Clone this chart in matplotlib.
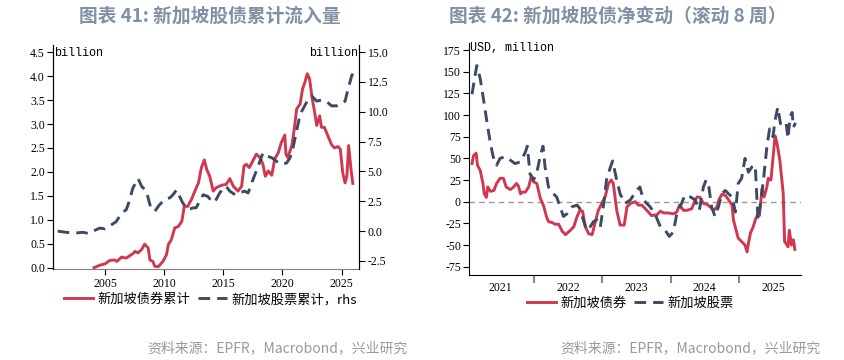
import matplotlib
matplotlib.use("Agg")
import matplotlib.pyplot as plt
from matplotlib.font_manager import FontProperties

# Figure 41: cumulative flows (decimal year, billion)
bond_cum_x = [2004.07, 2004.55, 2005.0, 2005.4, 2005.8, 2006.0, 2006.4, 2006.8, 2007.4, 2007.55,
              2007.8, 2008.1, 2008.35, 2008.65, 2008.8, 2009.05, 2009.2, 2009.5, 2009.9, 2010.2,
              2010.35, 2010.6, 2010.9, 2011.2, 2011.5, 2011.7, 2012.0, 2012.3, 2012.6, 2012.9,
              2013.15, 2013.4, 2013.6, 2013.85, 2014.15, 2014.4, 2014.85, 2015.25, 2015.55, 2015.85,
              2016.25, 2016.55, 2016.75, 2016.95, 2017.2, 2017.5, 2017.8, 2018.1, 2018.35, 2018.55,
              2018.8, 2019.1, 2019.35, 2019.65, 2019.9, 2020.2, 2020.3, 2020.45, 2020.8, 2021.0,
              2021.2, 2021.5, 2021.7, 2021.9, 2022.1, 2022.3, 2022.5, 2022.7, 2022.9, 2023.15,
              2023.3, 2023.55, 2023.85, 2024.15, 2024.4, 2024.7, 2024.9, 2025.1, 2025.3, 2025.45,
              2025.6, 2025.8, 2025.95]
bond_cum = [0.0, 0.05, 0.08, 0.15, 0.16, 0.13, 0.22, 0.2, 0.3, 0.34,
            0.31, 0.38, 0.49, 0.41, 0.16, 0.13, 0.03, 0.02, 0.13, 0.27,
            0.48, 0.58, 0.83, 0.86, 0.97, 1.28, 1.28, 1.42, 1.6, 1.77,
            2.09, 2.25, 2.05, 1.91, 1.6, 1.67, 1.72, 1.74, 1.86, 1.7,
            1.6, 1.7, 2.12, 2.16, 2.09, 2.23, 2.37, 2.3, 2.16, 1.91,
            2.02, 1.93, 2.27, 2.4, 2.61, 2.77, 2.37, 2.3, 2.55, 2.89,
            3.31, 3.42, 3.73, 3.87, 4.05, 3.94, 3.56, 3.28, 2.97, 3.17,
            2.93, 2.93, 2.75, 2.57, 2.5, 2.53, 2.47, 1.98, 1.77, 1.91,
            2.55, 2.05, 1.76]
equity_cum_x = [2001.0, 2001.7, 2002.4, 2003.15, 2003.6, 2004.0, 2004.55, 2005.0, 2005.5, 2005.95,
                2006.4, 2006.8, 2007.05, 2007.35, 2007.8, 2008.1, 2008.5, 2008.8, 2009.2, 2009.6,
                2010.05, 2010.5, 2010.75, 2011.05, 2011.5, 2011.75, 2012.0, 2012.45, 2012.7, 2013.0,
                2013.3, 2013.7, 2014.1, 2014.4, 2014.7, 2015.0, 2015.25, 2015.55, 2016.0, 2016.4,
                2016.8, 2017.1, 2017.5, 2017.9, 2018.35, 2018.65, 2019.1, 2019.5, 2019.9, 2020.35,
                2020.65, 2020.9, 2021.2, 2021.5, 2021.8, 2022.1, 2022.5, 2022.9, 2023.35, 2023.75,
                2024.15, 2024.6, 2025.0, 2025.3, 2025.55, 2025.85, 2026.0]
equity_cum = [0.0, -0.1, -0.17, -0.1, -0.2, 0.0, 0.25, 0.2, 0.5, 0.8,
              1.5, 1.8, 2.5, 3.6, 4.4, 3.75, 3.35, 2.2, 1.65, 2.2,
              2.65, 2.8, 3.05, 3.45, 2.5, 2.1, 1.8, 1.95, 1.95, 2.5,
              3.05, 2.9, 2.4, 2.65, 3.2, 3.6, 3.75, 3.35, 3.05, 3.2,
              3.35, 3.2, 4.3, 5.3, 6.55, 6.3, 6.15, 5.85, 5.6, 5.7,
              6.15, 7.0, 8.4, 9.8, 10.35, 10.9, 11.3, 10.9, 11.0, 10.85,
              10.5, 10.5, 10.65, 10.9, 11.9, 13.0, 13.3]

# Figure 42: 8-week rolling net change (decimal year, USD million)
bond_net_x = [2021.09, 2021.11, 2021.15, 2021.17, 2021.21, 2021.25, 2021.27, 2021.30, 2021.32, 2021.36,
              2021.41, 2021.45, 2021.50, 2021.55, 2021.59, 2021.65, 2021.70, 2021.74, 2021.77, 2021.80,
              2021.82, 2021.87, 2021.92, 2021.96, 2021.99, 2022.04, 2022.09, 2022.14, 2022.18, 2022.21,
              2022.26, 2022.31, 2022.36, 2022.41, 2022.46, 2022.53, 2022.58, 2022.63, 2022.67, 2022.71,
              2022.75, 2022.80, 2022.85, 2022.89, 2022.94, 2022.99, 2023.04, 2023.09, 2023.13, 2023.16,
              2023.21, 2023.26, 2023.32, 2023.36, 2023.41, 2023.48, 2023.53, 2023.58, 2023.65, 2023.72,
              2023.80, 2023.85, 2023.90, 2023.97, 2024.04, 2024.09, 2024.13, 2024.19, 2024.24, 2024.31,
              2024.36, 2024.39, 2024.43, 2024.48, 2024.53, 2024.58, 2024.63, 2024.68, 2024.71, 2024.75,
              2024.80, 2024.85, 2024.90, 2024.92, 2024.96, 2024.99, 2025.04, 2025.09, 2025.12, 2025.14,
              2025.17, 2025.21, 2025.24, 2025.28, 2025.30, 2025.34, 2025.37, 2025.41, 2025.43, 2025.47,
              2025.51, 2025.53, 2025.56, 2025.60, 2025.63, 2025.65, 2025.67, 2025.69, 2025.72, 2025.74,
              2025.77, 2025.80, 2025.82]
bond_net = [44, 53, 56, 42, 36, 21, 9, 5, 17, 12,
            13, 21, 27, 27, 17, 14, 17, 21, 18, 9,
            11, 11, 17, 30, 23, 21, 4, -5, -17, -23,
            -24, -26, -26, -34, -38, -33, -29, -17, -10, -11,
            -29, -37, -38, -25, -10, -2, 5.5, 21, 25, 21,
            -10, -27, -27, -6, -2, 0, -4, -4, -10, -16,
            -15, -11, -13, -13, -14, -12, -4, -10, -10, -8,
            2, 5.5, 5, -2, -3, -6, -10, -6, 2.5, 8.5,
            7.5, 2, -4, -21, -33, -42, -46, -50, -58, -48,
            -36, -29, -21, -14, -16, 15, 5.5, 17, 27, 25,
            59, 76, 67, 48, 25, 9, -46, -48, -52, -33,
            -50, -44, -55]
equity_net_x = [2021.09, 2021.13, 2021.16, 2021.21, 2021.26, 2021.31, 2021.36, 2021.40, 2021.45, 2021.50,
                2021.58, 2021.65, 2021.72, 2021.80, 2021.87, 2021.90, 2021.94, 2021.99, 2022.04, 2022.09,
                2022.13, 2022.16, 2022.21, 2022.26, 2022.33, 2022.38, 2022.43, 2022.48, 2022.55, 2022.63,
                2022.67, 2022.72, 2022.77, 2022.82, 2022.87, 2022.92, 2022.97, 2023.02, 2023.06, 2023.11,
                2023.15, 2023.21, 2023.26, 2023.33, 2023.41, 2023.50, 2023.55, 2023.60, 2023.70, 2023.77,
                2023.85, 2023.92, 2023.98, 2024.04, 2024.09, 2024.16, 2024.21, 2024.29, 2024.36, 2024.42,
                2024.48, 2024.52, 2024.56, 2024.60, 2024.65, 2024.70, 2024.75, 2024.80, 2024.85, 2024.90,
                2024.95, 2024.99, 2025.04, 2025.09, 2025.14, 2025.19, 2025.24, 2025.28, 2025.31, 2025.36,
                2025.41, 2025.45, 2025.50, 2025.53, 2025.57, 2025.61, 2025.65, 2025.69, 2025.72, 2025.75,
                2025.78, 2025.80, 2025.83]
equity_net = [124, 144, 157, 142, 117, 91, 67, 52, 42, 50,
              52, 48, 44, 46, 57, 64, 32, 25, 34, 53,
              64, 40, 17, 11, 5.5, -6, -17, -14, -6, -4,
              -8, -21, -33, -29, -23, -21, -29, -2, 25, 38,
              47, 25, 9, -2, 2, 13, 17, 2, -6, -14,
              -29, -33, -40, -35, -14, -2, 7.5, 5.5, 2, -10,
              17, 25, 17, -6, -17, -6, 9, 13, 9, 5.5,
              -12, 21, 27, 50, 34, 40, 42, -21, -6, 25,
              63, 84, 75, 94, 109, 90, 90, 92, 73, 98,
              103, 86, 91]

left_ticks = [0.0, 0.5, 1.0, 1.5, 2.0, 2.5, 3.0, 3.5, 4.0, 4.5]
right_ticks = [-2.5, 0.0, 2.5, 5.0, 7.5, 10.0, 12.5, 15.0]
left_years = [2005, 2010, 2015, 2020, 2025]
net_ticks = [-75, -50, -25, 0, 25, 50, 75, 100, 125, 150, 175]
net_year_bounds = [2022, 2023, 2024, 2025]
net_year_labels = ["2021", "2022", "2023", "2024", "2025"]

RED = "#d0384f"
NAVY = "#3c4a66"
TITLE = "#8090a7"
CJK = ["Noto Sans CJK SC", "DejaVu Sans"]
SERIF = "Liberation Serif"
MONO = "Liberation Mono"
legend_font = FontProperties(family=CJK, size=9.5)

fig = plt.figure(figsize=(8.45, 3.6), dpi=100)

# ---- left chart
ax = fig.add_axes([0.0631, 0.252, 0.3621, 0.623])
ax2 = ax.twinx()
ax.plot(bond_cum_x, bond_cum, color=RED, lw=2.1, label="新加坡债券累计")
ax2.plot(equity_cum_x, equity_cum, color=NAVY, lw=2.1, dashes=(4, 2.4), label="新加坡股票累计，rhs")
ax.set_xlim(2000.63, 2026.5)
ax.set_ylim(-0.034, 4.65)
ax2.set_ylim(-3.2, 15.6)
ax.set_yticks(left_ticks, [f"{v:.1f}" for v in left_ticks])
ax2.set_yticks(right_ticks, [f"{v:.1f}" for v in right_ticks])
ax.set_xticks(left_years, [str(y) for y in left_years])
for a in (ax, ax2):
    a.spines["top"].set_visible(False)
    a.tick_params(labelsize=8.5, length=4, width=0.8, pad=2)
    for lab in a.get_yticklabels() + a.get_xticklabels():
        lab.set_fontfamily(SERIF)
ax.spines["bottom"].set_color("#808080")
ax2.spines["bottom"].set_visible(False)
ax.text(0.003, 0.965, "billion", transform=ax.transAxes, fontsize=8.5, family=MONO, ha="left", va="center")
ax.text(0.997, 0.965, "billion", transform=ax.transAxes, fontsize=8.5, family=MONO, ha="right", va="center")
h1, l1 = ax.get_legend_handles_labels()
h2, l2 = ax2.get_legend_handles_labels()
fig.legend(h1 + h2, l1 + l2, loc="center", bbox_to_anchor=(0.249, 0.168), ncol=2, frameon=False,
           prop=legend_font, handlelength=2.2, columnspacing=0.6, handletextpad=0.3)
fig.text(0.248, 0.955, "图表 41: 新加坡股债累计流入量", ha="center", va="center", fontsize=13.5,
         fontweight="bold", color=TITLE, family=CJK)
fig.text(0.482, 0.033, "资料来源：EPFR，Macrobond，兴业研究", ha="right", va="center", fontsize=10,
         color="#999999", family=CJK)

# ---- right chart
bx = fig.add_axes([0.5554, 0.2353, 0.3925, 0.645])
bx.plot(bond_net_x, bond_net, color=RED, lw=2.1, label="新加坡债券")
bx.plot(equity_net_x, equity_net, color=NAVY, lw=2.1, dashes=(4, 2.4), label="新加坡股票")
bx.axhline(0, color="#999999", lw=1.0, ls=(0, (4, 3)), zorder=0)
bx.set_xlim(2021.05, 2025.91)
bx.set_ylim(-84.9, 183)
bx.set_yticks(net_ticks, [str(v) for v in net_ticks])
bx.set_xticks(net_year_bounds, [""] * len(net_year_bounds))
bx.set_xticks([y + 0.5 for y in range(2021, 2026)], net_year_labels, minor=True)
bx.tick_params(axis="x", which="major", length=6, width=1.5, color="#888888")
bx.tick_params(axis="x", which="minor", length=0, labelsize=8.5, pad=5)
bx.tick_params(axis="y", length=4, width=0.8, labelsize=8.5, pad=2)
for lab in bx.get_yticklabels() + bx.get_xticklabels(minor=True):
    lab.set_fontfamily(SERIF)
bx.spines["top"].set_visible(False)
bx.spines["right"].set_visible(False)
bx.text(0.003, 0.98, "USD, million", transform=bx.transAxes, fontsize=8.5, family=MONO, ha="left", va="center")
bx.legend(loc="center", bbox_to_anchor=(0.746, 0.158), bbox_transform=fig.transFigure, ncol=2,
          frameon=False, prop=legend_font, handlelength=2.2, columnspacing=0.6, handletextpad=0.3)
fig.text(0.971, 0.033, "资料来源：EPFR，Macrobond，兴业研究", ha="right", va="center", fontsize=10,
         color="#999999", family=CJK)
fig.text(0.731, 0.955, "图表 42: 新加坡股债净变动（滚动 8 周）", ha="center", va="center", fontsize=13.5,
         fontweight="bold", color=TITLE, family=CJK)

fig.savefig("out.png", dpi=100)
